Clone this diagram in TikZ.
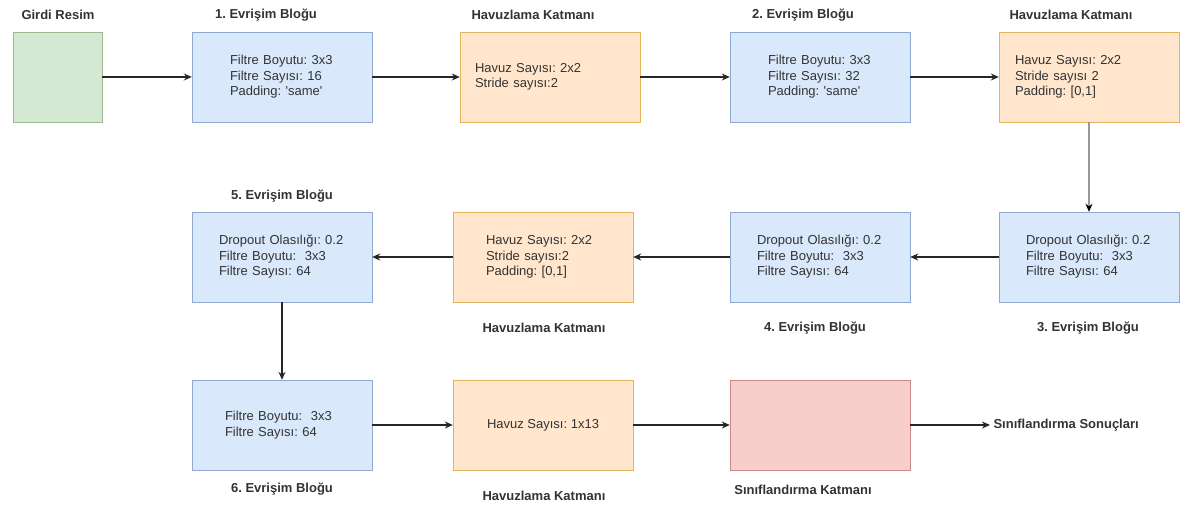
\documentclass[tikz,border=0pt]{standalone}
\usepackage{fontspec}
\setmainfont{Liberation Sans}
\usepackage{tikz}
\usetikzlibrary{arrows.meta, positioning}
\frenchspacing
\definecolor{yesil}{HTML}{D5E8D4}
\definecolor{yesilc}{HTML}{9CB98F}
\definecolor{mavi}{HTML}{DAE8FC}
\definecolor{mavic}{HTML}{8FA9CF}
\definecolor{turuncu}{HTML}{FFE6CC}
\definecolor{turuncuc}{HTML}{E2B45C}
\definecolor{pembe}{HTML}{F8CECC}
\definecolor{pembec}{HTML}{C98A88}
\definecolor{yazi}{HTML}{333333}

\begin{document}
\begin{tikzpicture} [x = 1pt, y = -1pt,
  kutu/.style = {rectangle, minimum width = 180, minimum height = 90, align = left, text = yazi,
                 font = \fontsize{13}{15.5}\selectfont},
  evrisim/.style = {kutu, draw = mavic, fill = mavi, inner xsep = #1, text width = 180 - 2*#1},
  havuz/.style = {kutu, draw = turuncuc, fill = turuncu, inner xsep = #1, text width = 180 - 2*#1},
  baslik/.style = {text = yazi, font = \bfseries\fontsize{13}{15.5}\selectfont},
  ok/.style = {line width = 1.4pt, draw = black!85, -{Stealth[length = 8pt, width = 7pt]}}]
\useasboundingbox (0,0) rectangle (1180,508);
% ilk satir
\node[kutu, draw = yesilc, fill = yesil, minimum width = 89] (g) at (57.5,77) {};
\node[evrisim = 38] (e1) at (282,77) {Filtre Boyutu: 3x3\\Filtre Sayısı: 16\\Padding: \textquotesingle same\textquotesingle};
\node[havuz = 15] (h1) at (550,77) {Havuz Sayısı: 2x2\\Stride sayısı:2};
\node[evrisim = 38] (e2) at (820,77) {Filtre Boyutu: 3x3\\Filtre Sayısı: 32\\Padding: \textquotesingle same\textquotesingle};
\node[havuz = 16] (h2) at (1089,77) {Havuz Sayısı: 2x2\\Stride sayısı 2\\Padding: [0,1]};
% ikinci satir
\node[evrisim = 27] (e3) at (1089,257) {Dropout Olasılığı: 0.2\\Filtre Boyutu:~~3x3\\Filtre Sayısı: 64};
\node[evrisim = 27] (e4) at (820,257) {Dropout Olasılığı: 0.2\\Filtre Boyutu:~~3x3\\Filtre Sayısı: 64};
\node[havuz = 33] (h3) at (543,257) {Havuz Sayısı: 2x2\\Stride sayısı:2\\Padding: [0,1]};
\node[evrisim = 27] (e5) at (282,257) {Dropout Olasılığı: 0.2\\Filtre Boyutu:~~3x3\\Filtre Sayısı: 64};
% ucuncu satir
\node[evrisim = 33] (e6) at (282,425) {Filtre Boyutu:~~3x3\\Filtre Sayısı: 64};
\node[kutu, draw = turuncuc, fill = turuncu, align = center] (h4) at (543,425) {Havuz Sayısı: 1x13};
\node[kutu, draw = pembec, fill = pembe] (s1) at (820,425) {};
\node[baslik, anchor = west] (sonuc) at (990,425) {Sınıflandırma Sonuçları};
% basliklar
\node[baslik] (tg) at (58,15) {Girdi Resim};
\node[baslik] (te1) at (266,15) {1. Evrişim Bloğu};
\node[baslik] (th1) at (533,15) {Havuzlama Katmanı};
\node[baslik] (te2) at (803,15) {2. Evrişim Bloğu};
\node[baslik] (th2) at (1071,15) {Havuzlama Katmanı};
\node[baslik] (te5) at (282,196) {5. Evrişim Bloğu};
\node[baslik] (th3) at (544,328) {Havuzlama Katmanı};
\node[baslik] (te4) at (815,328) {4. Evrişim Bloğu};
\node[baslik] (te3) at (1088,328) {3. Evrişim Bloğu};
\node[baslik] (te6) at (282,489) {6. Evrişim Bloğu};
\node[baslik] (th4) at (544,496) {Havuzlama Katmanı};
\node[baslik] (ts1) at (803,490) {Sınıflandırma Katmanı};
% oklar
\draw[ok] (g) -- (e1);
\draw[ok] (e1) -- (h1);
\draw[ok] (h1) -- (e2);
\draw[ok] (e2) -- (h2);
\draw[ok, draw = black!40, -{Stealth[length = 8pt, width = 7pt, black]}] (h2) -- (e3);
\draw[ok] (e3) -- (e4);
\draw[ok] (e4) -- (h3);
\draw[ok] (h3) -- (e5);
\draw[ok] (e5) -- (e6);
\draw[ok] (e6) -- (h4);
\draw[ok] (h4) -- (s1);
\draw[ok] (s1) -- (sonuc);
\end{tikzpicture}
\end{document}
